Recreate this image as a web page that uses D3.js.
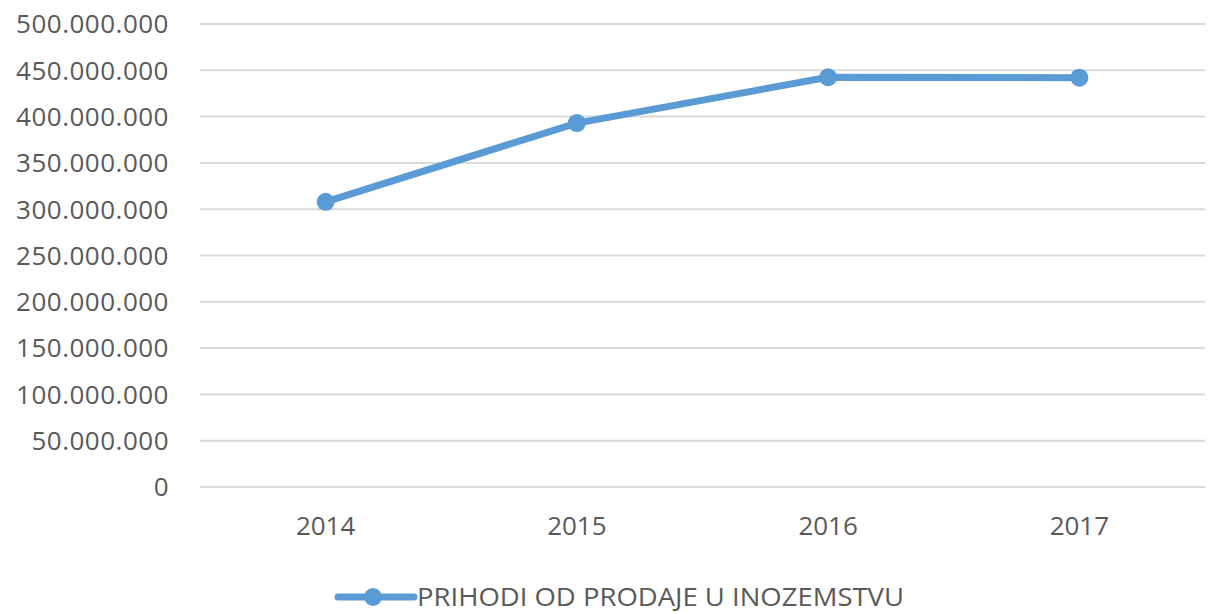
<!DOCTYPE html>
<html><head><meta charset="utf-8">
<script src="https://cdn.jsdelivr.net/npm/d3@7"></script>
<style>body{margin:0;background:#fff}svg{display:block}text{font-family:"Open Sans","Noto Sans",sans-serif;fill:#595959}</style>
</head><body><svg id="c" width="1211" height="614"></svg>
<script>
const years = ["2014","2015","2016","2017"];
const values = [308000000, 393000000, 442500000, 442000000];
const yTicks = [0,50000000,100000000,150000000,200000000,250000000,300000000,350000000,400000000,450000000,500000000];
const seriesName = "PRIHODI OD PRODAJE U INOZEMSTVU";

const svg = d3.select("#c");
const mLeft = 200, mRight = 1205, mTop = 24, mBottom = 487;
const x = d3.scaleBand().domain(years).range([mLeft, mRight]);
const y = d3.scaleLinear().domain([0, 500000000]).range([mBottom, mTop]);
const fmt = v => d3.format(",")(v).replace(/,/g, ".");

svg.append("g").selectAll("line").data(yTicks).join("line")
  .attr("x1", mLeft).attr("x2", mRight)
  .attr("y1", d => y(d)).attr("y2", d => y(d))
  .attr("stroke", "#d9d9d9").attr("stroke-width", 2);

svg.append("g").selectAll("text").data(yTicks).join("text")
  .attr("x", 169).attr("y", d => y(d)).attr("dy", "0.36em")
  .attr("text-anchor", "end").attr("font-size", 26).attr("letter-spacing", 0.5).text(fmt);

svg.append("g").selectAll("text").data(years).join("text")
  .attr("x", d => x(d) + x.bandwidth()/2).attr("y", 526).attr("dy", "0.36em")
  .attr("text-anchor", "middle").attr("font-size", 26).text(d => d);

const line = d3.line().x((d,i) => x(years[i]) + x.bandwidth()/2).y(d => y(d));
svg.append("path").datum(values).attr("d", line)
  .attr("fill", "none").attr("stroke", "#5B9BD5").attr("stroke-width", 7).attr("stroke-linejoin", "round");
svg.append("g").selectAll("circle").data(values).join("circle")
  .attr("cx", (d,i) => x(years[i]) + x.bandwidth()/2).attr("cy", d => y(d))
  .attr("r", 9).attr("fill", "#5B9BD5");

const lg = svg.append("g");
lg.append("line").attr("x1", 338).attr("x2", 414).attr("y1", 597).attr("y2", 597)
  .attr("stroke", "#5B9BD5").attr("stroke-width", 7).attr("stroke-linecap", "round");
lg.append("circle").attr("cx", 373).attr("cy", 597).attr("r", 9).attr("fill", "#5B9BD5");
lg.append("text").attr("x", 417).attr("y", 597).attr("dy", "0.36em").attr("font-size", 25)
  .attr("textLength", 487).attr("lengthAdjust", "spacingAndGlyphs").text(seriesName);
</script></body></html>
